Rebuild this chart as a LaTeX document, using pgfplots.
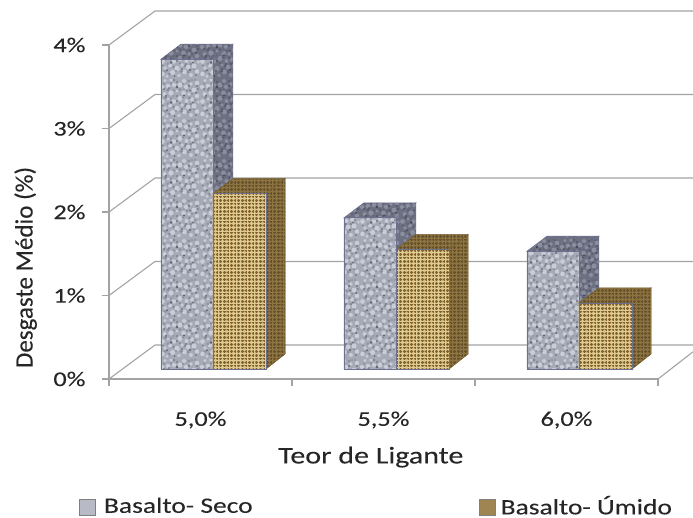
\documentclass[border=0pt]{standalone}
\usepackage{pgfplots}
\pgfplotsset{compat=1.18}
\usepackage{fontspec}
\setmainfont[FakeStretch=1.25,FakeBold=0.1]{Carlito}
\newfontfamily\rotfont[FakeBold=0.1]{Carlito}
\usetikzlibrary{patterns}
\definecolor{granA}{HTML}{A6A9B6}\definecolor{granB}{HTML}{5E6172}\definecolor{granC}{HTML}{868A99}\definecolor{granD}{HTML}{CACCD6}
\definecolor{granE}{HTML}{6C7080}\definecolor{granF}{HTML}{454856}\definecolor{granG}{HTML}{585C6C}\definecolor{granH}{HTML}{8A8E9E}
\definecolor{weA}{HTML}{C6A666}\definecolor{weB}{HTML}{7E6230}\definecolor{weC}{HTML}{E0CC92}
\definecolor{weD}{HTML}{80693A}\definecolor{weE}{HTML}{64502A}\definecolor{weF}{HTML}{8E7440}
\definecolor{wallc}{HTML}{A3A3A3}
\definecolor{edgeG}{HTML}{6E7092}
\definecolor{edgeB}{HTML}{7A6232}
\newcommand\blobs[2]{\pgfsetfillcolor{#1}\foreach \x/\y/\r in {#2}{\pgfpathcircle{\pgfpoint{\x bp}{\y bp}}{\r bp}}\pgfusepath{fill}}
\newcommand\defgranite[5]{%
\pgfdeclarepatterninherentlycolored{#1}{\pgfpoint{-.5bp}{-.5bp}}{\pgfpoint{40.5bp}{40.5bp}}{\pgfpoint{40bp}{40bp}}{%
\pgfpathrectangle{\pgfpoint{-1bp}{-1bp}}{\pgfpoint{42bp}{42bp}}\pgfsetfillcolor{#2}\pgfusepath{fill}%
\blobs{#5}{2.5/4/2.3,7/1.8/1.6,12.5/5.5/2.6,19/2.5/1.9,24.5/6/2.4,31/3/2,37/6.5/2.2,5/10/1.9,10/12.5/2.1,17/9.5/2.7,22/13/1.8,28/11/2.3,34/12/2.5,38.5/16/1.6,2.5/16.5/2.4,8/19/1.7,14/16.5/2.2,20/19.5/2.6,26.5/17/2,32/18.5/2.2,37/22/2.3,4.5/24/2,11/25/2.7,17/27/1.7,23.5/25/2.3,29/24/1.9,34/28/2.4,2/31/2.1,8/32/2.2,14/33/2.1,20/33/2.5,26/31/2.2,31/34/1.8,37/35/2.2,5/37.5/1.6,11/38/1.9,24/37/2}%
\blobs{#4}{5/6.5/1.2,9.5/4/1.4,16/7/1,21.5/6.5/1.5,28/6/1.3,34/8.5/1,8/14/1.2,13.5/11/1.3,20/14.5/1.1,25/12/1.4,31/14/1.3,5.5/20/1.5,11/19.5/1,17/22/1.3,23/20.5/1.1,29.5/20/1.5,35/18/1.1,8/28/1.3,14/27.5/1.1,20/28.5/1.4,27/27/1.2,32/24/1,38/29/1.3,4/34/1,11/34.5/1.2,17/36/1.4,23/34/1,29/37/1.3,35/38/1}%
\blobs{#3}{7/7.5/1,14.5/2/.8,22/9/.9,30/8/1.2,36/3/.8,11/15.5/1.3,3/12.5/.7,26/14/.9,33/15.5/.8,17/17/.9,6/22/1,24/22.5/1.2,30/27.5/.9,13/22/.7,36/25/1,9/30/.8,17/31/1.4,24/29/.7,29/32/1,4/29/.9,37/32/.8,14/38/.9,32/38/.7}%
}}
\defgranite{graniteF}{granA}{granB}{granC}{granD}
\defgranite{graniteD}{granE}{granF}{granG}{granH}
\newcommand\defweave[5]{%
\pgfdeclarepatterninherentlycolored{#1}{\pgfpoint{-.2bp}{-.2bp}}{\pgfpoint{#5 bp+.2bp}{#5 bp+.2bp}}{\pgfpoint{#5 bp}{#5 bp}}{%
\pgfpathrectangle{\pgfpoint{-1bp}{-1bp}}{\pgfpoint{#5 bp+2bp}{#5 bp+2bp}}\pgfsetfillcolor{#2}\pgfusepath{fill}%
\pgfsetstrokecolor{#3}\pgfsetlinewidth{.6bp}%
\pgfpathmoveto{\pgfpoint{-1bp}{1bp}}\pgfpathlineto{\pgfpoint{#5 bp+1bp}{1bp}}%
\pgfpathmoveto{\pgfpoint{1bp}{-1bp}}\pgfpathlineto{\pgfpoint{1bp}{#5 bp+1bp}}\pgfusepath{stroke}%
\pgfsetstrokecolor{#4}\pgfsetlinewidth{.6bp}%
\pgfpathmoveto{\pgfpoint{-1bp}{2.7bp}}\pgfpathlineto{\pgfpoint{#5 bp+1bp}{2.7bp}}%
\pgfpathmoveto{\pgfpoint{2.7bp}{-1bp}}\pgfpathlineto{\pgfpoint{2.7bp}{#5 bp+1bp}}\pgfusepath{stroke}%
}}
\defweave{weaveF}{weA}{weB}{weC}{3.6}
\defweave{weaveD}{weD}{weE}{weF}{3.6}
\newcommand\face[3]{\addplot[forget plot,mark=none,yshift=10bp,draw=#1,line width=.6bp,pattern=#2] coordinates {#3} -- cycle;}
\newcommand\wall[1]{\addplot[forget plot,mark=none,wallc,line width=1.1bp] coordinates {#1};}
\begin{document}
\begin{tikzpicture}[x=1bp,y=1bp]
\path[use as bounding box] (0,0) rectangle (693,518);
\begin{axis}[
  at={(109bp,139bp)},anchor=south west,
  scale only axis,width=549bp,height=334bp,
  xmin=0,xmax=3,ymin=0,ymax=4,clip=false,
  axis x line=bottom,axis y line=left,
  axis line style={wallc,line width=1.1bp,-},
  xtick={0,1,2,3},ytick={0,1,2,3,4},
  x tick label as interval,
  xticklabels={{5,0\%},{5,5\%},{6,0\%}},
  yticklabels={0\%,1\%,2\%,3\%,4\%},
  tick style={wallc,line width=1.1bp},
  major tick length=7bp,
  tick align=outside,
  ticklabel style={font=\fontsize{21bp}{23bp}\selectfont,text=black!85},
  xticklabel style={yshift=-22bp},
  yticklabel style={xshift=-13bp},
  xlabel={Teor de Ligante},
  ylabel={Desgaste Médio (\%)},
  label style={font=\fontsize{24bp}{26bp}\selectfont,text=black!85},
  xlabel style={at={(axis description cs:0.477,-0.234)},anchor=center},
  ylabel style={at={(axis description cs:-0.152,0.334)},anchor=center,font=\rotfont\fontsize{25bp}{27bp}\selectfont},
  legend columns=2,
  legend style={at={(axis description cs:-0.055,-0.38)},anchor=west,draw=none,fill=none,
     font=\fontsize{22bp}{24bp}\selectfont,text=black!85,
     /tikz/column 1/.style={column sep=6bp},
     /tikz/column 2/.style={column sep=224bp},
     /tikz/column 3/.style={column sep=3bp},
     inner sep=0pt},
]
% back walls
\wall{(0,0) (0.2514,0.407) (3.191,0.407)}
\wall{(0,1) (0.2514,1.407) (3.191,1.407)}
\wall{(0,2) (0.2514,2.407) (3.191,2.407)}
\wall{(0,3) (0.2514,3.407) (3.191,3.407)}
\wall{(0,4) (0.2514,4.407) (3.191,4.407)}
\wall{(3,0) (3.191,0.325)}
% Basalto- Seco: tops and sides
\face{edgeG}{graniteD}{(0.284,3.71) (0.393,3.89) (0.677,3.89) (0.568,3.71)}
\face{edgeG}{graniteD}{(0.568,3.71) (0.677,3.89) (0.677,0.18) (0.568,0)}
\face{edgeG}{graniteD}{(1.284,1.81) (1.393,1.99) (1.677,1.99) (1.568,1.81)}
\face{edgeG}{graniteD}{(1.568,1.81) (1.677,1.99) (1.677,0.18) (1.568,0)}
\face{edgeG}{graniteD}{(2.284,1.41) (2.393,1.59) (2.677,1.59) (2.568,1.41)}
\face{edgeG}{graniteD}{(2.568,1.41) (2.677,1.59) (2.677,0.18) (2.568,0)}
\addplot[ybar,bar width=52bp,bar shift=0pt,yshift=10bp,draw=edgeG,line width=.8bp,pattern=graniteF,
  legend image code/.code={\draw[draw=gray,fill=granA!80!white,line width=1bp] (0bp,-20bp) rectangle (16bp,-4bp);}]
  coordinates {(0.426,3.71) (1.426,1.81) (2.426,1.41)};
\addlegendentry{Basalto- Seco}
% Basalto- Umido: tops and sides
\face{edgeB}{weaveD}{(0.568,2.10) (0.677,2.28) (0.962,2.28) (0.858,2.10)}
\face{edgeB}{weaveD}{(0.858,2.10) (0.962,2.28) (0.962,0.18) (0.858,0)}
\face{edgeB}{weaveD}{(1.568,1.43) (1.677,1.61) (1.962,1.61) (1.858,1.43)}
\face{edgeB}{weaveD}{(1.858,1.43) (1.962,1.61) (1.962,0.18) (1.858,0)}
\face{edgeB}{weaveD}{(2.568,0.79) (2.677,0.97) (2.962,0.97) (2.858,0.79)}
\face{edgeB}{weaveD}{(2.858,0.79) (2.962,0.97) (2.962,0.18) (2.858,0)}
\addplot[ybar,bar width=53bp,bar shift=0pt,yshift=10bp,draw=edgeG,line width=.8bp,pattern=weaveF,
  legend image code/.code={\draw[draw=gray,fill=weA!80!black,line width=1bp] (0bp,-20bp) rectangle (16bp,-4bp);}]
  coordinates {(0.713,2.10) (1.713,1.43) (2.713,0.79)};
\addlegendentry{Basalto- Úmido}
\end{axis}
\end{tikzpicture}
\end{document}
